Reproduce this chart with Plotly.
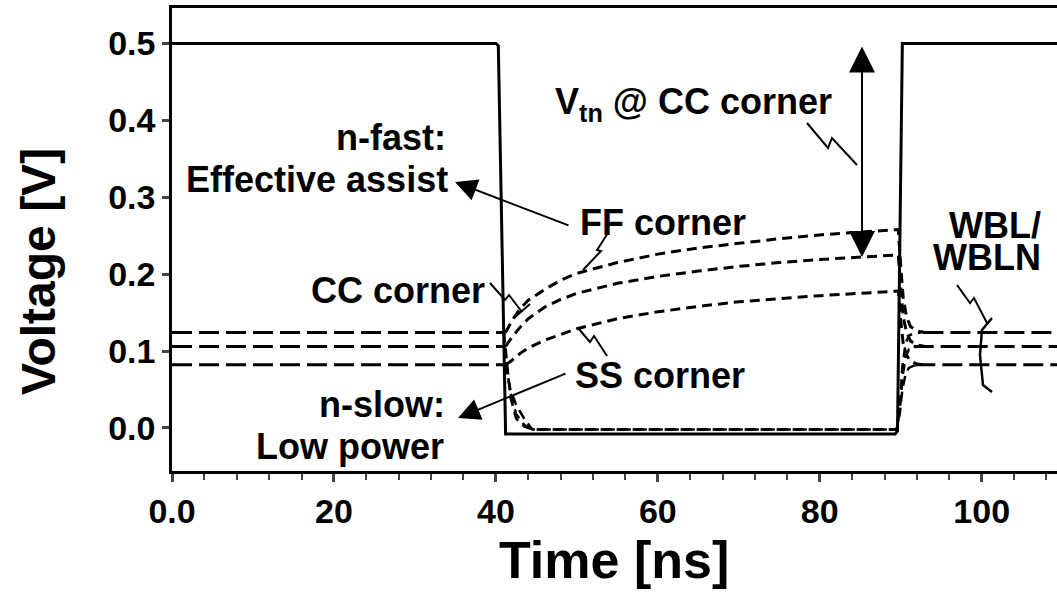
import plotly.graph_objects as go

# ---------------- data ----------------
# word-line (solid)
t_wl = [0, 40.0, 40.3, 41.2, 89.3, 89.6, 90.2, 110]
v_wl = [0.5, 0.5, 0.497, -0.008, -0.008, -0.004, 0.5, 0.5]

corners = ["FF", "CC", "SS"]
# precharge levels (long dash)
v_pre = [0.124, 0.106, 0.082]
t_pre_end = 41.2
t_pre_restart = [92.8, 91.6, 91.8]

# bit-line going up (short dash), incl. recovery after 90 ns
t_up = [41.2, 42, 43, 44, 46, 48, 50, 55, 60, 65, 70, 75, 80, 85, 89.7,
        90.0, 90.3, 90.7, 91.2, 92.0, 93.0]
v_up_ff = [0.124, 0.140, 0.155, 0.166, 0.180, 0.192, 0.201, 0.215, 0.226, 0.234,
           0.240, 0.246, 0.251, 0.255, 0.258, 0.21, 0.17, 0.145, 0.132, 0.126, 0.124]
v_up_cc = [0.106, 0.118, 0.131, 0.142, 0.157, 0.167, 0.175, 0.188, 0.197, 0.204,
           0.210, 0.215, 0.219, 0.222, 0.225, 0.18, 0.145, 0.125, 0.113, 0.108, 0.106]
v_up_ss = [0.082, 0.088, 0.097, 0.104, 0.114, 0.122, 0.129, 0.142, 0.151, 0.158,
           0.164, 0.168, 0.172, 0.175, 0.178, 0.14, 0.11, 0.095, 0.087, 0.083, 0.082]

# bit-line going down (short dash)
t_dn = [41.0, 41.4, 41.8, 42.5, 43.5, 44.5, 89.5, 89.9, 90.2, 90.6, 91.0, 91.6, 92.5]
v_dn_ff = [0.124, 0.080, 0.040, 0.012, 0.002, -0.002, -0.002, 0.030, 0.080, 0.110, 0.120, 0.123, 0.124]
v_dn_cc = [0.106, 0.075, 0.045, 0.018, 0.004, -0.002, -0.002, 0.025, 0.065, 0.092, 0.102, 0.105, 0.106]
v_dn_ss = [0.082, 0.070, 0.050, 0.030, 0.012, -0.002, -0.002, 0.020, 0.050, 0.070, 0.078, 0.081, 0.082]

x_ticks = [0, 20, 40, 60, 80, 100]
x_ticktext = ["0.0", "20", "40", "60", "80", "100"]
y_ticks = [0.0, 0.1, 0.2, 0.3, 0.4, 0.5]
y_ticktext = ["0.0", "0.1", "0.2", "0.3", "0.4", "0.5"]

# ---------------- figure ----------------
W, H = 1057, 598
L, R, T, B = 172, 0, 8, 127
XR = [0, 109.3]
YR = [-0.056, 0.546]

def px(xp):
    return XR[0] + (xp - L) / (W - L - R) * (XR[1] - XR[0])

def py(yp):
    return YR[1] - (yp - T) / (H - T - B) * (YR[1] - YR[0])

def paper_x(xp):
    return (xp - L) / (W - L - R)

def paper_y(yp):
    return (H - B - yp) / (H - T - B)

FONT = "Liberation Sans, Arial, sans-serif"
LONG = "20px,7px"
SHORT = "10px,6px"

fig = go.Figure()

ups = [v_up_ff, v_up_cc, v_up_ss]
dns = [v_dn_ff, v_dn_cc, v_dn_ss]
for i, c in enumerate(corners):
    fig.add_trace(go.Scatter(x=[0, t_pre_end], y=[v_pre[i], v_pre[i]], mode="lines",
                             line=dict(color="black", width=3, dash=LONG), showlegend=False))
    fig.add_trace(go.Scatter(x=[t_pre_restart[i], XR[1]], y=[v_pre[i], v_pre[i]], mode="lines",
                             line=dict(color="black", width=3, dash=LONG), showlegend=False))
    fig.add_trace(go.Scatter(x=t_up, y=ups[i], mode="lines",
                             line=dict(color="black", width=3, dash=SHORT), showlegend=False))
    fig.add_trace(go.Scatter(x=t_dn, y=dns[i], mode="lines",
                             line=dict(color="black", width=2.5, dash=SHORT), showlegend=False))

fig.add_trace(go.Scatter(x=t_wl, y=v_wl, mode="lines",
                         line=dict(color="black", width=3), showlegend=False))

AF = dict(family=FONT, size=36, color="black", weight="bold")

def label(text, xp, yp, anchor):
    fig.add_annotation(x=px(xp), y=py(yp), text=text, showarrow=False, xanchor=anchor,
                       yanchor="middle", font=AF)

label("n-fast:", 448, 137, "right")
label("Effective assist", 450, 179, "right")
label("V<sub>tn</sub> @ CC corner", 553, 104, "left")
label("FF corner", 578, 222, "left")
label("CC corner", 487, 290, "right")
label("SS corner", 573, 375, "left")
label("n-slow:", 447, 404, "right")
label("Low power", 446, 446, "right")
label("WBL/", 1043, 225, "right")
label("WBLN", 1043, 257, "right")

# axis titles
fig.add_annotation(xref="paper", yref="paper", x=paper_x(614), y=paper_y(560),
                   text="Time [ns]", showarrow=False, xanchor="center", yanchor="middle",
                   font=dict(family=FONT, size=52, color="black", weight="bold"))
fig.add_annotation(xref="paper", yref="paper", x=paper_x(38), y=paper_y(272),
                   text="Voltage [V]", showarrow=False, xanchor="center", yanchor="middle",
                   textangle=-90,
                   font=dict(family=FONT, size=48, color="black", weight="bold"))

def arrow(x1, y1, x0, y0, size, both=False):
    fig.add_annotation(x=px(x1), y=py(y1), ax=px(x0), ay=py(y0), axref="x", ayref="y",
                       xref="x", yref="y", text="", showarrow=True, arrowhead=2,
                       arrowsize=size, arrowwidth=2, arrowcolor="black",
                       arrowside="end+start" if both else "end")

arrow(862, 257, 862, 45, 2.6, both=True)
arrow(455, 182, 570, 226, 2.2)
arrow(458, 418, 567, 373, 2.2)

def path(points, width=2):
    d = "M " + " L ".join(f"{px(a)},{py(b)}" for a, b in points)
    fig.add_shape(type="path", path=d, xref="x", yref="y",
                  line=dict(color="black", width=width))

# lightning-bolt pointers
path([(807, 123), (828, 148), (832, 138), (857, 165)])
path([(608, 233), (597, 250), (601, 251), (583, 270)])
path([(578, 328), (590, 342), (594, 336), (607, 356)])
path([(490, 283), (505, 300), (509, 295), (522, 312)])
path([(514, 318), (530, 304)])
path([(957, 285), (970, 303), (974, 298), (987, 323)])
path([(992, 318), (982, 330), (980, 355), (983, 385), (992, 392)], width=2.5)

fig.update_layout(
    width=W, height=H,
    margin=dict(l=L, r=R, t=T, b=B),
    plot_bgcolor="white", paper_bgcolor="white",
    font=dict(family=FONT, color="black", weight="bold"),
    xaxis=dict(range=XR, tickvals=x_ticks, ticktext=x_ticktext,
               ticks="outside", ticklen=8, tickwidth=2.5, showline=True, linewidth=2.5,
               linecolor="black", mirror=True, showgrid=False, zeroline=False,
               tickfont=dict(family=FONT, size=34, weight="bold"),
               minor=dict(dtick=4, tick0=0, ticks="outside", ticklen=6, tickwidth=2, showgrid=False)),
    yaxis=dict(range=YR, tickvals=y_ticks, ticktext=y_ticktext,
               ticks="outside", ticklen=7, tickwidth=2.5, showline=True, linewidth=2.5,
               linecolor="black", mirror=False, showgrid=False, zeroline=False,
               tickfont=dict(family=FONT, size=34, weight="bold")),
)

fig.write_html("out.html")
